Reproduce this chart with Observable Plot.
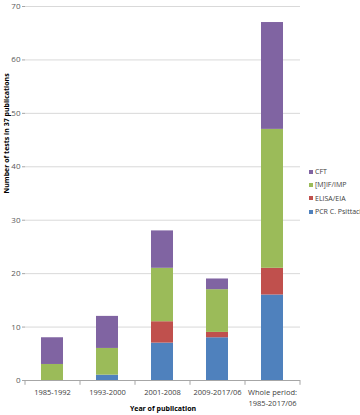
<!DOCTYPE html>
<html>
<head>
<meta charset="utf-8">
<script src="https://cdn.jsdelivr.net/npm/d3@7"></script>
<script src="https://cdn.jsdelivr.net/npm/@observablehq/plot@0.6"></script>
<style>
  html, body { margin: 0; padding: 0; background: #fff; }
  #wrap { position: relative; width: 360px; height: 415px; font-family: "Open Sans", sans-serif; }
  #legend { position: absolute; left: 309px; top: 165px; font-size: 7px; color: #404040; line-height: 13.3px; }
  #legend .it { display: flex; align-items: center; white-space: nowrap; }
  #legend .sw { width: 4px; height: 4px; margin-right: 2px; display: inline-block; }
</style>
</head>
<body>
<div id="wrap"><div id="legend"></div></div>
<script>
const categories = ["1985-1992", "1993-2000", "2001-2008", "2009-2017/06", "Whole period:\n1985-2017/06"];
const seriesNames = ["PCR C. Psittaci", "ELISA/EIA", "[M]IF/IMP", "CFT"];
const pcr   = [0, 1, 7, 8, 16];
const elisa = [0, 0, 4, 1, 5];
const mif   = [3, 5, 10, 8, 26];
const cft   = [5, 6, 7, 2, 20];
const colors = ["#4F81BD", "#C0504D", "#9BBB59", "#8064A2"];
const yTicks = [0, 10, 20, 30, 40, 50, 60, 70];

const seriesValues = [pcr, elisa, mif, cft];
const rows = [];
categories.forEach((c, i) => {
  seriesNames.forEach((s, j) => rows.push({cat: c, series: s, value: seriesValues[j][i]}));
});

const leftEdges = categories.map(c => ({cat: c}));
const lastCat = [categories[categories.length - 1]];

const chart = Plot.plot({
  width: 360,
  height: 415,
  marginLeft: 25,
  marginRight: 60,
  marginTop: 6,
  marginBottom: 35,
  style: {fontFamily: "Open Sans, sans-serif", background: "#fff", overflow: "visible"},
  x: {domain: categories, paddingInner: 0.6, paddingOuter: 0.3, label: null},
  y: {domain: [0, 70], label: null},
  color: {domain: seriesNames, range: colors},
  marks: [
    Plot.gridY(yTicks.filter(d => d > 0), {stroke: "#d9d9d9", strokeOpacity: 1}),
    Plot.barY(rows, {x: "cat", y: "value", fill: "series", order: seriesNames}),
    Plot.ruleY([0], {stroke: "#a6a6a6"}),
    Plot.ruleX([0], {frameAnchor: "left", stroke: "#a6a6a6", y1: 0, y2: 70, dx: -0.5}),
    Plot.ruleX(leftEdges, {x: "cat", dx: -27.5, y1: 0, y2: -0.9, stroke: "#a6a6a6"}),
    Plot.ruleX(lastCat, {x: d => d, dx: 27.5, y1: 0, y2: -0.9, stroke: "#a6a6a6"}),
    Plot.axisY(yTicks, {tickSize: 3, stroke: "#a6a6a6", tickPadding: 2, fontSize: 8, fill: "#595959", label: null}),
    Plot.axisX({tickSize: 0, tickPadding: 6, fontSize: 7.5, lineHeight: 1.55, fill: "#404040", label: null}),
    Plot.text(["Year of publication"], {frameAnchor: "bottom", dy: 30, fontWeight: "bold", fontSize: 7, fill: "#000"}),
    Plot.text(["Number of tests in 37 publications"], {frameAnchor: "left", dx: -19, rotate: -90, fontWeight: "bold", fontSize: 7, fill: "#000"})
  ]
});
document.getElementById("wrap").prepend(chart);

const legend = document.getElementById("legend");
[...seriesNames].reverse().forEach(s => {
  const i = seriesNames.indexOf(s);
  const d = document.createElement("div");
  d.className = "it";
  d.innerHTML = `<span class="sw" style="background:${colors[i]}"></span>${s}`;
  legend.appendChild(d);
});
</script>
</body>
</html>
